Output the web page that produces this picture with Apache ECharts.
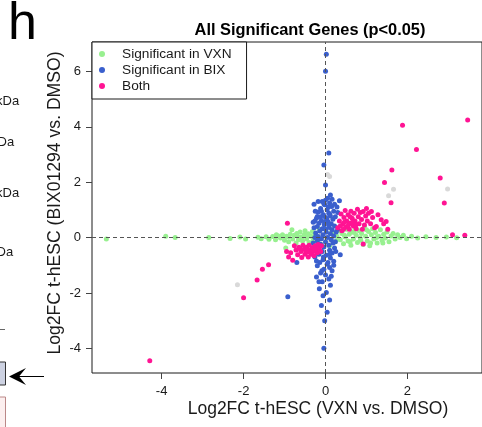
<!DOCTYPE html>
<html>
<head>
<meta charset="utf-8">
<script src="https://cdn.jsdelivr.net/npm/echarts@6/dist/echarts.min.js"></script>
<style>
  html, body { margin: 0; padding: 0; background: #fff; }
  #scatter { width: 482px; height: 427px; }
</style>
</head>
<body>
<div id="scatter"></div>
<script>
// values: [log2FC VXN, log2FC BIX]
let vxnPoints = [
  [-5.35,-0.05],[-3.9,0.05],[-3.67,0.0],[-2.85,0.0],[-2.33,-0.03],[-2.09,0.02],[-1.95,-0.05],
  [-1.65,0.01],[-1.57,-0.04],[-1.45,0.03],[-1.38,-0.06],[-1.29,0.04],[-1.22,-0.08],[-1.15,0.06],
  [-1.1,-0.02],[-1.05,0.1],[-1.0,-0.1],[-0.97,-0.38],[-0.95,0.05],[-0.9,-0.15],[-0.86,0.12],
  [-0.82,0.28],[-0.8,-0.05],[-0.76,0.08],[-0.72,-0.2],[-0.7,0.15],[-0.66,-0.08],[-0.62,0.2],
  [-0.6,0.02],[-0.56,-0.12],[-0.52,0.1],[-0.5,0.25],[-0.46,-0.05],[-0.42,0.14],[-0.4,-0.18],
  [-0.36,0.05],[-0.32,0.22],[-0.3,-0.1],[-0.26,0.12],[-0.22,-0.02],[-0.15,0.3],[-0.1,-0.25],
  [0.1,-0.3],[0.15,0.2],[0.2,0.1],[0.24,-0.15],[0.28,0.05],[0.32,0.25],[0.36,-0.08],[0.4,0.15],
  [0.44,-0.22],[0.48,0.02],[0.52,0.3],[0.55,-0.12],[0.58,0.12],[0.62,-0.28],[0.65,0.2],
  [0.68,-0.05],[0.72,0.35],[0.75,0.08],[0.78,-0.18],[0.82,0.25],[0.85,-0.02],[0.88,0.15],
  [0.92,-0.25],[0.95,0.4],[0.98,0.05],[1.02,-0.12],[1.05,0.22],[1.08,-0.3],[1.12,0.1],
  [1.15,0.32],[1.18,-0.05],[1.22,0.18],[1.26,-0.2],[1.3,0.05],[1.34,0.28],[1.38,-0.1],
  [1.42,0.12],[1.46,-0.02],[1.5,0.2],[1.55,-0.15],[1.6,0.06],[1.65,0.15],[1.7,-0.05],
  [1.76,0.1],[1.82,0.0],[1.9,0.08],[1.98,-0.04],[2.1,0.05],[2.25,-0.02],[2.45,0.03],
  [2.7,0.0],[2.95,0.02],[3.2,-0.01],
  [0.3,-0.05],[0.46,0.08],[0.6,-0.15],[0.7,0.18],[0.86,-0.1],[1.0,0.28],[1.1,-0.2],
  [1.25,0.0],[1.4,-0.2],[-0.68,0.05],[-0.9,0.02],[-1.2,0.1],[-0.45,0.05],[-0.58,-0.02]
]
let bixPoints = [
  [0.02,6.62],[0.0,6.0],[0.08,3.05],[-0.04,2.62],[0.0,1.9],[0.12,1.54],[0.34,1.33],
  [-0.2,0.76],[0.36,-0.62],[-0.7,-0.9],[-0.92,-2.14],[-0.04,-4.0],
  [0.05,1.42],[-0.08,1.3],[0.1,1.25],[-0.02,1.18],[0.15,1.12],[-0.12,1.05],[0.04,1.0],
  [0.2,0.95],[-0.18,0.92],[0.08,0.88],[-0.05,0.82],[0.12,0.78],[-0.22,0.7],[0.0,0.72],
  [0.18,0.66],[-0.1,0.62],[0.06,0.58],[-0.16,0.52],[0.14,0.5],[-0.03,0.46],[0.22,0.42],
  [-0.2,0.4],[0.09,0.36],[-0.08,0.32],[0.16,0.28],[-0.14,0.24],[0.02,0.2],[-0.24,0.16],
  [0.12,0.14],[-0.06,0.1],[0.2,0.06],[-0.18,0.04],[0.05,0.0],[-0.1,-0.04],[0.14,-0.08],
  [-0.2,-0.12],[0.0,-0.16],[0.18,-0.2],[-0.12,-0.24],[0.08,-0.28],[-0.04,-0.34],[0.22,-0.38],
  [-0.22,-0.4],[0.1,-0.46],[-0.08,-0.5],[0.16,-0.56],[-0.16,-0.6],[0.02,-0.64],[-0.26,-0.7],
  [0.12,-0.74],[-0.06,-0.8],[0.2,-0.86],[-0.14,-0.9],[0.04,-0.96],[-0.2,-1.02],[0.1,-1.08],
  [-0.04,-1.14],[0.16,-1.2],[-0.12,-1.28],[0.0,-1.35],[-0.22,-1.42],[0.08,-1.5],[-0.08,-1.6],
  [0.12,-1.72],[-0.15,-1.85],[0.02,-1.98],[-0.06,-2.1],[0.1,-2.25],[-0.1,-2.45],[0.04,-2.7],
  [-0.02,-3.0],[0.3,0.9],[0.28,1.1],[-0.3,0.55],[0.25,-0.5],[-0.3,-0.2],[0.3,0.3],[-0.28,1.2],
  [0.0,1.35],[-0.04,1.22],[0.07,1.1],[-0.1,0.95],[0.1,0.85],[0.03,0.68],[-0.12,0.75],
  [0.08,0.45],[-0.02,0.55],[0.0,0.3],[-0.15,-0.05],[0.1,-0.6],[-0.05,-0.7],[0.06,-0.9],[-0.09,-1.2],
  [-0.25,0.95],[-0.26,0.6],[0.22,1.2],[0.24,0.75],[-0.18,1.3],[0.16,1.38],[-0.28,0.35],
  [0.26,0.2],[-0.26,0.0],[0.24,-0.15],[-0.22,-0.85],[0.2,-1.0],[-0.16,-1.6],[0.14,-1.4]
]
let bothPoints = [
  [1.88,4.05],[3.47,4.24],[2.22,3.18],[1.62,2.44],[1.44,1.99],[1.6,1.26],[2.8,2.15],[2.9,1.25],
  [3.1,0.1],[3.4,0.08],[-4.29,-4.45],[-2.0,-2.17],[-1.67,-1.53],[-1.54,-1.14],[-1.39,-0.98],
  [-0.93,0.52],[0.92,-0.23],
  [0.3,0.35],[0.34,0.6],[0.38,0.85],[0.4,0.25],[0.42,0.48],[0.45,0.72],[0.48,0.98],[0.5,0.38],
  [0.52,0.6],[0.55,0.82],[0.58,0.3],[0.6,0.52],[0.62,0.95],[0.65,0.7],[0.68,0.42],[0.7,0.88],
  [0.72,0.6],[0.75,0.32],[0.78,1.02],[0.8,0.75],[0.82,0.5],[0.85,0.9],[0.88,0.65],[0.92,0.94],
  [0.95,0.45],[0.98,0.78],[1.02,0.6],[1.05,0.88],[1.1,0.5],[1.12,0.94],[1.15,0.72],[1.2,0.35],
  [1.24,0.4],[1.28,0.82],[1.36,0.64],[1.42,0.5],[1.48,0.58],[1.52,0.3],[0.36,0.42],[0.46,0.55],
  [0.56,0.45],[0.66,0.55],[0.44,0.3],[0.6,0.75],[0.74,0.45],[0.9,0.3],[1.0,1.05],
  [-0.76,-0.3],[-0.72,-0.45],[-0.68,-0.62],[-0.65,-0.35],[-0.6,-0.5],[-0.58,-0.72],[-0.55,-0.28],
  [-0.52,-0.42],[-0.5,-0.6],[-0.46,-0.35],[-0.44,-0.52],[-0.42,-0.7],[-0.4,-0.28],[-0.38,-0.45],
  [-0.35,-0.6],[-0.32,-0.36],[-0.3,-0.5],[-0.28,-0.66],[-0.25,-0.3],[-0.22,-0.42],[-0.2,-0.55],
  [-0.18,-0.25],[-0.15,-0.38],[-0.12,-0.5],[-0.1,-0.3],[-0.62,-0.4],[-0.48,-0.48],[-0.36,-0.52],
  [-0.26,-0.45],[-0.85,-0.55],[-0.95,-0.5],[-0.9,-0.7],[-0.8,-0.82]
]
let nsPoints = [
  [0.05,2.28],[0.1,2.2],[1.66,1.74],[1.54,1.51],[-2.15,-1.7],[2.98,1.75],
  [-0.05,-0.05],[0.05,0.08],[-0.1,0.1],[0.08,-0.1]
]
let xTicks = [-4, -2, 0, 2]
let yTicks = [-4, -2, 0, 2, 4, 6]
let seriesNames = ['Significant in VXN', 'Significant in BIX', 'Both']

let chart = echarts.init(document.getElementById('scatter'))
let fontFam = '"Liberation Sans", Arial, sans-serif'
let ink = '#1a1a1a'

function dots(name, data, color, z) {
  return {
    name: name,
    type: 'scatter',
    data: data,
    symbol: 'circle',
    symbolSize: 5,
    z: z,
    itemStyle: { color: color, opacity: 1 },
    emphasis: { disabled: true }
  }
}

let nsSeries = dots('NS', nsPoints, '#d9d9d9', 1)
nsSeries.markLine = {
  silent: true,
  symbol: 'none',
  label: { show: false },
  lineStyle: { color: '#555', width: 1, type: [4, 3] },
  data: [{ xAxis: 0 }, { yAxis: 0 }]
}

chart.setOption({
  animation: false,
  backgroundColor: '#fff',
  grid: {
    left: 92, top: 42, width: 395, height: 331,
    show: true, borderColor: ink, borderWidth: 1
  },
  legend: {
    data: seriesNames,
    orient: 'vertical',
    left: 92, top: 42,
    backgroundColor: '#fff',
    borderColor: ink, borderWidth: 1,
    padding: [4, 15, 5, 7],
    itemGap: 0,
    itemWidth: 6, itemHeight: 6,
    icon: 'circle',
    textStyle: { fontFamily: fontFam, fontSize: 13.7, color: ink, lineHeight: 16, padding: [0, 0, 0, 12] }
  },
  xAxis: {
    type: 'value',
    min: -5.7, max: 3.82,
    axisLine: { show: false, onZero: false },
    splitLine: { show: false },
    axisTick: { show: true, length: 6, customValues: xTicks, lineStyle: { color: '#444' } },
    axisLabel: { customValues: xTicks, margin: 12, fontFamily: fontFam, fontSize: 13, color: ink }
  },
  yAxis: {
    type: 'value',
    min: -4.89, max: 7.06,
    axisLine: { show: false, onZero: false },
    splitLine: { show: false },
    axisTick: { show: true, length: 6, customValues: yTicks, lineStyle: { color: '#444' } },
    axisLabel: { customValues: yTicks, margin: 11, fontFamily: fontFam, fontSize: 13, color: ink }
  },
  series: [
    nsSeries,
    dots(seriesNames[0], vxnPoints, '#98f090', 2),
    dots(seriesNames[1], bixPoints, '#3a5fcd', 3),
    dots(seriesNames[2], bothPoints, '#ff1493', 4)
  ],
  graphic: [
    { type: 'text', x: 8, y: 25, style: { text: 'h', font: '52px ' + fontFam, fill: '#000', align: 'left', verticalAlign: 'middle' } },
    { type: 'text', x: 310, y: 30, style: { text: 'All Significant Genes (p<0.05)', font: 'bold 16.4px ' + fontFam, fill: '#000', align: 'center', verticalAlign: 'middle' } },
    { type: 'text', x: 318, y: 409, style: { text: 'Log2FC t-hESC (VXN vs. DMSO)', font: '17.5px ' + fontFam, fill: ink, align: 'center', verticalAlign: 'middle' } },
    { type: 'text', x: 55, y: 203, rotation: Math.PI / 2, style: { text: 'Log2FC t-hESC (BIX01294 vs. DMSO)', font: '17.6px ' + fontFam, fill: ink, align: 'center', verticalAlign: 'middle' } },
    // fragments of the neighbouring panel
    { type: 'text', x: -4, y: 101, style: { text: 'kDa', font: '13px ' + fontFam, fill: ink, align: 'left', verticalAlign: 'middle' } },
    { type: 'text', x: -9, y: 142, style: { text: 'kDa', font: '13px ' + fontFam, fill: ink, align: 'left', verticalAlign: 'middle' } },
    { type: 'text', x: -4, y: 193, style: { text: 'kDa', font: '13px ' + fontFam, fill: ink, align: 'left', verticalAlign: 'middle' } },
    { type: 'text', x: -10, y: 252, style: { text: 'kDa', font: '13px ' + fontFam, fill: ink, align: 'left', verticalAlign: 'middle' } },
    { type: 'line', shape: { x1: 0, y1: 329.5, x2: 5, y2: 329.5 }, style: { stroke: '#666', lineWidth: 1 } },
    { type: 'rect', shape: { x: -2, y: 362, width: 7.5, height: 23 }, style: { fill: '#cdd2e2', stroke: '#333', lineWidth: 1 } },
    { type: 'rect', shape: { x: -2, y: 397, width: 7.5, height: 36 }, style: { fill: '#fcefef', stroke: '#bb8888', lineWidth: 1 } },
    { type: 'line', shape: { x1: 14, y1: 376.5, x2: 44, y2: 376.5 }, style: { stroke: '#000', lineWidth: 1 } },
    { type: 'polygon', shape: { points: [[9, 376.5], [26, 368], [19, 376.5], [26, 385]] }, style: { fill: '#000' } }
  ]
})
</script>
</body>
</html>
